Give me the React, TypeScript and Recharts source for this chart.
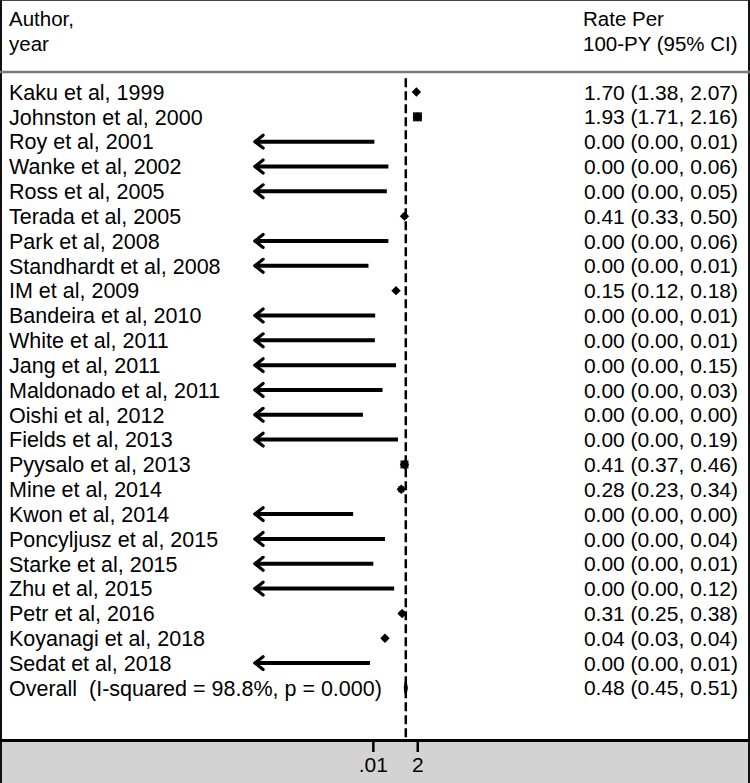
import React from 'react';
import { ComposedChart, XAxis, YAxis, Scatter, ReferenceLine } from 'recharts';

// ---------- data ----------
const authors = [
  'Kaku et al, 1999',
  'Johnston et al, 2000',
  'Roy et al, 2001',
  'Wanke et al, 2002',
  'Ross et al, 2005',
  'Terada et al, 2005',
  'Park et al, 2008',
  'Standhardt et al, 2008',
  'IM et al, 2009',
  'Bandeira et al, 2010',
  'White et al, 2011',
  'Jang et al, 2011',
  'Maldonado et al, 2011',
  'Oishi et al, 2012',
  'Fields et al, 2013',
  'Pyysalo et al, 2013',
  'Mine et al, 2014',
  'Kwon et al, 2014',
  'Poncyljusz et al, 2015',
  'Starke et al, 2015',
  'Zhu et al, 2015',
  'Petr et al, 2016',
  'Koyanagi et al, 2018',
  'Sedat et al, 2018',
];
const rates = [1.7, 1.93, 0, 0, 0, 0.41, 0, 0, 0.15, 0, 0, 0, 0, 0, 0, 0.41, 0.28, 0, 0, 0, 0, 0.31, 0.04, 0];
const lowers = [1.38, 1.71, 0, 0, 0, 0.33, 0, 0, 0.12, 0, 0, 0, 0, 0, 0, 0.37, 0.23, 0, 0, 0, 0, 0.25, 0.03, 0];
const uppers = [2.07, 2.16, 0.0113, 0.06, 0.05, 0.5, 0.06, 0.0056, 0.18, 0.0125, 0.012, 0.15, 0.03, 0.0029, 0.19, 0.46, 0.34, 0.0009, 0.04, 0.01, 0.12, 0.38, 0.04, 0.0067];
const boxSizes = [0, 9, 0, 0, 0, 5, 0, 0, 4, 0, 0, 0, 0, 0, 0, 8, 6, 0, 0, 0, 0, 5, 0, 0];
const overallLabel = 'Overall  (I-squared = 98.8%, p = 0.000)';
const overallRate = 0.48;
const overallLower = 0.45;
const overallUpper = 0.51;
const xTickValues = [0.01, 2];
const xTickLabels = ['.01', '2'];
const headerLeft = ['Author,', 'year'];
const headerRight = ['Rate Per', '100-PY (95% CI)'];

// ---------- layout constants ----------
const W = 750;
const H = 783;
const TOP = 73;
const BOTTOM = 43;
const LEFT_W = 255;
const RIGHT_W = 190;
const X_MIN = -8.13;
const X_MAX = 7.67;
const Y_MIN = -0.765;
const Y_MAX = 26.097;
const FONT = 'Liberation Sans, Arial, Helvetica, sans-serif';
const FS_HEAD = 20.5;
const FS_LEFT = 21.5;
const FS_RIGHT = 21;

const lg = (v: number) => Math.log10(v);
const fmt = (v: number) => v.toFixed(2);

const nRows = authors.length + 1;
const rowIdx = Array.from({ length: nRows }, (_, i) => i);

const pointData = authors
  .map((_, i) => ({ x: rates[i] > 0 ? lg(rates[i]) : NaN, row: i, box: boxSizes[i] }))
  .filter((d) => !Number.isNaN(d.x));
const overallData = [{ x: lg(overallRate), row: authors.length }];

const ciData = authors.map((_, i) => {
  const arrow = !(lowers[i] > 0) || lg(lowers[i]) < X_MIN;
  return {
    row: i,
    lo: arrow ? X_MIN : lg(lowers[i]),
    hi: lg(uppers[i]),
    arrow,
  };
});

const ARROW_DX = 0.42;
const ARROW_DY = 0.26;

const LeftTick = (props: any) => {
  const { y, payload } = props;
  const i = payload.value;
  const label = i < authors.length ? authors[i] : overallLabel;
  return (
    <text x={9} y={y} dy="0.36em" fontSize={FS_LEFT} fontFamily={FONT} fill="#000" textAnchor="start" style={{ whiteSpace: 'pre' }}>
      {label}
    </text>
  );
};

const RightTick = (props: any) => {
  const { y, payload } = props;
  const i = payload.value;
  const label =
    i < authors.length
      ? `${fmt(rates[i])} (${fmt(lowers[i])}, ${fmt(uppers[i])})`
      : `${fmt(overallRate)} (${fmt(overallLower)}, ${fmt(overallUpper)})`;
  return (
    <text x={738} y={y} dy="0.36em" fontSize={FS_RIGHT} fontFamily={FONT} fill="#000" textAnchor="end">
      {label}
    </text>
  );
};

const PointShape = (props: any) => {
  const { cx, cy, payload } = props;
  const b = payload.box || 0;
  const r = 4.7;
  return (
    <g>
      {b > 0 && <rect x={cx - b / 2} y={cy - b / 2} width={b} height={b} fill="#111" />}
      <polygon points={`${cx - r},${cy} ${cx},${cy - r} ${cx + r},${cy} ${cx},${cy + r}`} fill="#000" />
    </g>
  );
};

const OverallShape = (props: any) => {
  const { cx, cy } = props;
  const hw = 1.6;
  const hh = 8.5;
  return <polygon points={`${cx - hw},${cy} ${cx},${cy - hh} ${cx + hw},${cy} ${cx},${cy + hh}`} fill="#000" stroke="#000" strokeWidth={1} />;
};

export default function App() {
  return (
    <div style={{ position: 'relative', width: W, height: H, fontFamily: FONT }}>
      <style>{'body{margin:0;background:#fff;}'}</style>
      <svg width={W} height={H} style={{ position: 'absolute', left: 0, top: 0 }}>
        <rect x={0} y={0} width={W} height={741} fill="#fff" />
        <rect x={0} y={741} width={W} height={H - 741} fill="#d3d3d3" />
        <line x1={0} y1={0.5} x2={W} y2={0.5} stroke="#444" strokeWidth={1} />
        <line x1={1} y1={0} x2={1} y2={H} stroke="#111" strokeWidth={2} />
        <line x1={W - 1} y1={0} x2={W - 1} y2={H} stroke="#111" strokeWidth={2} />
        <line x1={0} y1={72} x2={W} y2={72} stroke="#7a7a7a" strokeWidth={2.5} />
        <line x1={0} y1={740.5} x2={W} y2={740.5} stroke="#000" strokeWidth={3} />
        <text x={9} y={26} fontSize={FS_HEAD} fontFamily={FONT} fill="#000">{headerLeft[0]}</text>
        <text x={9} y={51} fontSize={FS_HEAD} fontFamily={FONT} fill="#000">{headerLeft[1]}</text>
        <text x={583} y={26} fontSize={FS_HEAD} fontFamily={FONT} fill="#000">{headerRight[0]}</text>
        <text x={583} y={51} fontSize={FS_HEAD} fontFamily={FONT} fill="#000">{headerRight[1]}</text>
      </svg>
      <div style={{ position: 'absolute', left: 0, top: 0 }}>
        <ComposedChart width={W} height={H} margin={{ top: TOP, right: 0, bottom: 0, left: 0 }}>
          <XAxis
            type="number"
            dataKey="x"
            domain={[X_MIN, X_MAX]}
            allowDataOverflow
            ticks={xTickValues.map(lg)}
            interval={0}
            tickFormatter={(_v: number, i: number) => xTickLabels[i]}
            axisLine={false}
            tickLine={{ stroke: '#000', strokeWidth: 2.5 }}
            tickSize={12}
            tickMargin={5}
            height={BOTTOM}
            tick={{ fontSize: 21, fill: '#000', fontFamily: FONT }}
          />
          <YAxis
            yAxisId="left"
            type="number"
            dataKey="row"
            domain={[Y_MIN, Y_MAX]}
            allowDataOverflow
            reversed
            ticks={rowIdx}
            interval={0}
            width={LEFT_W}
            axisLine={false}
            tickLine={false}
            tick={<LeftTick />}
          />
          <YAxis
            yAxisId="right"
            orientation="right"
            type="number"
            domain={[Y_MIN, Y_MAX]}
            allowDataOverflow
            reversed
            ticks={rowIdx}
            interval={0}
            width={RIGHT_W}
            axisLine={false}
            tickLine={false}
            tick={<RightTick />}
          />
          <ReferenceLine
            yAxisId="left"
            segment={[{ x: lg(overallRate), y: -0.55 }, { x: lg(overallRate), y: Y_MAX }]}
            stroke="#000"
            strokeWidth={2.5}
            strokeDasharray="9 4"
          />
          {ciData.map((d) => (
            <ReferenceLine
              key={`ci-${d.row}`}
              yAxisId="left"
              segment={[{ x: d.lo, y: d.row }, { x: d.hi, y: d.row }]}
              stroke="#000"
              strokeWidth={4}
            />
          ))}
          {ciData
            .filter((d) => d.arrow)
            .map((d) => (
              <ReferenceLine
                key={`au-${d.row}`}
                yAxisId="left"
                segment={[{ x: X_MIN, y: d.row }, { x: X_MIN + ARROW_DX, y: d.row - ARROW_DY }]}
                stroke="#000"
                strokeWidth={3.2}
                strokeLinecap="round"
              />
            ))}
          {ciData
            .filter((d) => d.arrow)
            .map((d) => (
              <ReferenceLine
                key={`ad-${d.row}`}
                yAxisId="left"
                segment={[{ x: X_MIN, y: d.row }, { x: X_MIN + ARROW_DX, y: d.row + ARROW_DY }]}
                stroke="#000"
                strokeWidth={3.2}
                strokeLinecap="round"
              />
            ))}
          <Scatter yAxisId="left" data={pointData} dataKey="row" shape={<PointShape />} isAnimationActive={false} />
          <Scatter yAxisId="left" data={overallData} dataKey="row" shape={<OverallShape />} isAnimationActive={false} />
        </ComposedChart>
      </div>
    </div>
  );
}
